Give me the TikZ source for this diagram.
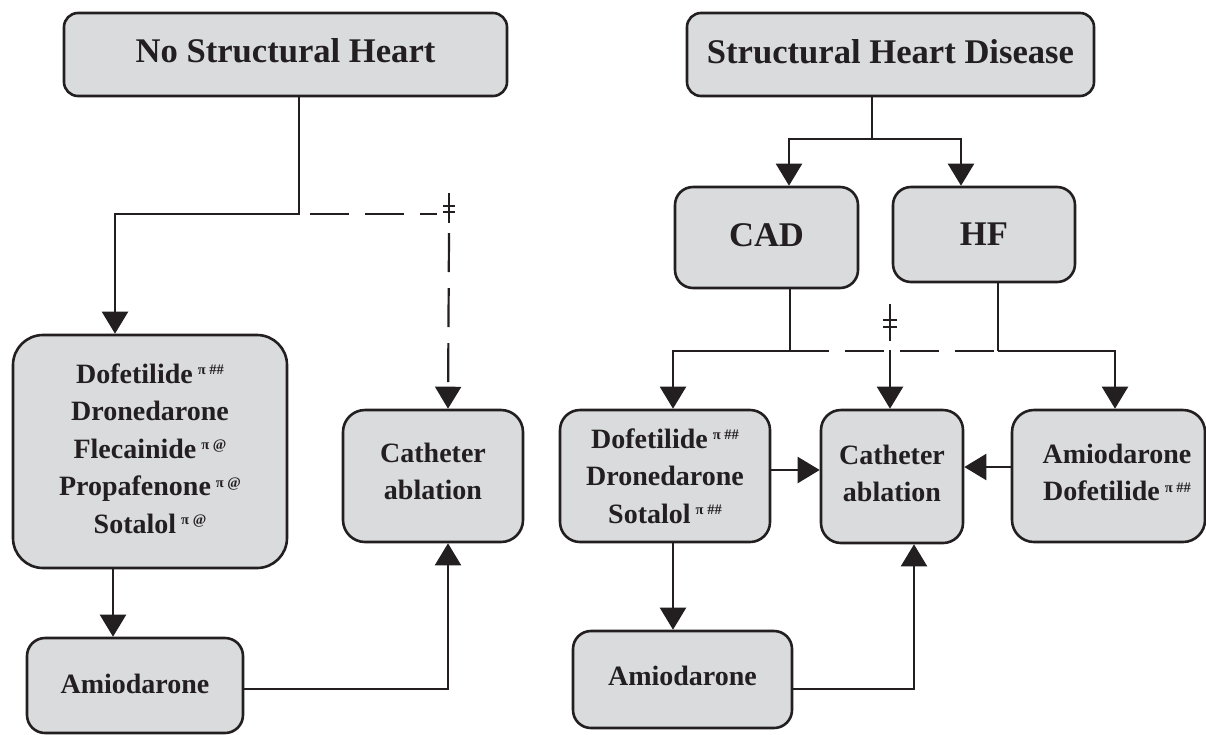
\documentclass[tikz,border=0pt]{standalone}
\usepackage{fontspec}
\setmainfont{Liberation Serif}
\usetikzlibrary{arrows.meta}
\definecolor{ink}{RGB}{35,31,32}
\definecolor{boxgray}{RGB}{218,219,221}
\newcommand{\supmark}[1]{\hspace{5pt}\raisebox{8.5pt}{\fontsize{14.5}{14.5}\selectfont #1}}
\newcommand{\sinkby}[1]{\rule[-#1]{0pt}{#1}}
\begin{document}
\begin{tikzpicture}[x=1pt,y=-1pt,
  box/.style={draw=ink, fill=boxgray, line width=2.6pt, rounded corners=#1, inner sep=0pt,
    align=center, text=ink, font=\bfseries\fontsize{28}{37.5}\selectfont},
  box/.default=20pt,
  big/.style={font=\bfseries\fontsize{34.6}{40}\selectfont},
  conn/.style={draw=ink, line width=2.2pt},
  arr/.style={-{Triangle[width=26pt,length=22pt]}},
  dashconn/.style={conn, dash pattern=on 39pt off 16pt},
  barmark/.style={draw=ink, line width=1.6pt}]
\useasboundingbox (0,0) rectangle (1206,734);

% boxes
\node[box=14pt,big,minimum width=443pt,minimum height=83pt] (nsh) at (285.5,54.5) {No Structural Heart\sinkby{9pt}};
\node[box=14pt,big,minimum width=407pt,minimum height=83pt] (shd) at (890.5,54.5) {Structural Heart Disease\sinkby{7pt}};
\node[box=18pt,big,minimum width=183pt,minimum height=101pt] (cad) at (766.5,237.5) {CAD\sinkby{4.4pt}};
\node[box=18pt,big,minimum width=182pt,minimum height=95pt] (hf) at (984,234.5) {HF};
\node[box=30pt,minimum width=274pt,minimum height=233pt] (dofL) at (150,451.5)
  {Dofetilide\supmark{π \#\#}\\Dronedarone\\Flecainide\supmark{π @}\\Propafenone\supmark{π @}\\Sotalol\supmark{π @}\sinkby{6pt}};
\node[box=22pt,minimum width=180pt,minimum height=132pt] (catL) at (433,476) {Catheter\\ablation\sinkby{9.5pt}};
\node[box=18pt,minimum width=216pt,minimum height=95pt] (amiL) at (135,685.5) {Amiodarone\sinkby{4pt}};
\node[box=20pt,minimum width=210pt,minimum height=132pt] (dofR) at (665,476)
  {Dofetilide\supmark{π \#\#}\\Dronedarone\\Sotalol\supmark{π \#\#}};
\node[box=20pt,minimum width=142pt,minimum height=133pt] (catR) at (892,476.5) {Catheter\\ablation\sinkby{6.5pt}};
\node[box=22pt,minimum width=193pt,minimum height=132pt] (adR) at (1108.5,476)
  {\hspace*{17pt}Amiodarone\\\hspace*{17pt}Dofetilide\supmark{π \#\#}\sinkby{7.5pt}};
\node[box=18pt,minimum width=219pt,minimum height=97pt] (amiR) at (682.5,679.5) {Amiodarone\sinkby{8pt}};

% left connectors
\draw[conn,arr] ([xshift=13.5pt]nsh.south) -- ++(0,117) -| ([xshift=-35pt]dofL.north);
\coordinate (dA) at (310,214);
\coordinate (dB) at (437,214);
\coordinate (dC) at (449,233);
\coordinate (dagL) at (449,208);
\draw[dashconn] (dA) -- (dB);
\draw[dashconn,arr] (dC) -- ([xshift=15pt]catL.north);
\draw[barmark] (dagL) ++(0,-15) -- ++(0,30)
  (dagL) ++(-6,-2) -- ++(12,0)
  (dagL) ++(-6,4) -- ++(12,0);
\draw[conn,arr] ([xshift=-37pt]dofL.south) -- ([xshift=-22pt]amiL.north);
\draw[conn,arr] ([yshift=-3.5pt]amiL.east) -| ([xshift=15pt]catL.south);

% right connectors
\draw[conn] ([xshift=-18.5pt]shd.south) -- ++(0,42) coordinate (jR);
\draw[conn,arr] (jR) -| ([xshift=22.5pt]cad.north);
\draw[conn,arr] (jR) -| ([xshift=-23pt]hf.north);
\draw[conn] ([xshift=23.5pt]cad.south) -- ++(0,62) coordinate (jC);
\draw[conn] ([xshift=14pt]hf.south) -- ++(0,68) coordinate (jH);
\draw[conn,arr] (jC) -| ([xshift=8pt]dofR.north);
\draw[conn,arr] (jH) -| ([xshift=6.5pt]adR.north);
\draw[dashconn] (jC) -- (jH);
\coordinate (jM) at (890,350);
\coordinate (dagR) at (890,322.5);
\draw[barmark] (dagR) ++(0,-18.5) -- ++(0,37)
  (dagR) ++(-7,-2.5) -- ++(14,0)
  (dagR) ++(-7,4.5) -- ++(14,0);
\draw[conn,arr] (jM) -- ([xshift=-2pt]catR.north);
\draw[conn,arr] ([yshift=6pt]dofR.east) -- ([yshift=6.5pt]catR.west);
\draw[conn,arr] ([yshift=9pt]adR.west) -- ([yshift=9.5pt]catR.east);
\draw[conn,arr] ([xshift=8pt]dofR.south) -- ([xshift=-9.5pt]amiR.north);
\draw[conn,arr] ([yshift=-9.5pt]amiR.east) -| ([xshift=22pt]catR.south);
\end{tikzpicture}
\end{document}
